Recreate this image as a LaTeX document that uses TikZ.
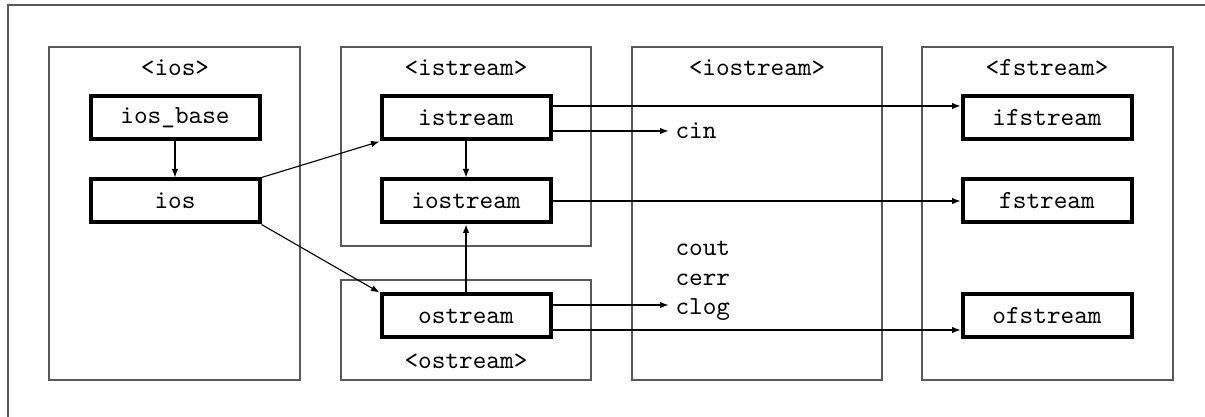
\documentclass[tikz,border=0pt]{standalone}
\usetikzlibrary{arrows.meta,calc}
\begin{document}
\begin{tikzpicture}[x=0.4pt,y=-0.4pt,
  every node/.style={font=\fontsize{10.4}{12.5}\selectfont\ttfamily},
  pkg/.style={draw=black!65,line width=0.5pt},
  cls/.style={draw=black,line width=1.6pt,minimum width=67.6pt,minimum height=17.2pt,inner sep=0pt},
  lbl/.style={inner sep=0pt},
  arr/.style={-{Latex[length=3.4pt,width=2.6pt]},line width=0.45pt}]
\useasboundingbox (0,0) rectangle (1205,417);
% outer frame (partially visible)
\draw[draw=black!65,line width=0.5pt] (8,417) -- (8,5) -- (1205,5);
% package boxes
\draw[pkg] (49,47) rectangle (300,380);
\draw[pkg] (341,47) rectangle (591,246);
\draw[pkg] (341,280) rectangle (591,380);
\draw[pkg] (632,47) rectangle (882,380);
\draw[pkg] (922,47) rectangle (1173,380);
% package labels
\node[lbl] (lios) at (175,68) {<ios>};
\node[lbl] (listream) at (466,68) {<istream>};
\node[lbl] (liostream) at (757,68) {<iostream>};
\node[lbl] (lfstream) at (1047,68) {<fstream>};
\node[lbl] (lostream) at (466,361) {<ostream>};
% classes
\node[cls] (iosbase) at (175,118) {ios\_base};
\node[cls] (ios) at (175,201) {ios};
\node[cls] (istream) at (466,118) {istream};
\node[cls] (iostream) at (466,201) {iostream};
\node[cls] (ostream) at (466,316) {ostream};
\node[cls] (ifstream) at (1047,118) {ifstream};
\node[cls] (fstream) at (1047,201) {fstream};
\node[cls] (ofstream) at (1047,316) {ofstream};
% objects
\node[lbl,anchor=west] (cin) at (675,131) {cin};
\node[lbl,anchor=west] (cout) at (675,248) {cout};
\node[lbl,anchor=west] (cerr) at (675,280) {cerr};
\node[lbl,anchor=west] (clog) at (675,310) {clog};
% connectors
\draw[arr] (iosbase) -- (ios);
\draw[arr] (ios.north east) -- (istream.south west);
\draw[arr] (ios.south east) -- (ostream.north west);
\draw[arr] (istream) -- (iostream);
\draw[arr] (ostream) -- (iostream);
\draw[arr] ([yshift=4.8pt]istream.east) -- ([yshift=4.8pt]istream.east -| ifstream.west);
\draw[arr] ([yshift=-5.2pt]istream.east) -- ([yshift=-5.2pt,xshift=-2.6pt]istream.east -| cin.west);
\draw[arr] (iostream.east) -- (fstream.west);
\draw[arr] ([yshift=4.4pt]ostream.east) -- ([yshift=4.4pt,xshift=-2.6pt]ostream.east -| clog.west);
\draw[arr] ([yshift=-5.6pt]ostream.east) -- ([yshift=-5.6pt]ostream.east -| ofstream.west);
\end{tikzpicture}
\end{document}
